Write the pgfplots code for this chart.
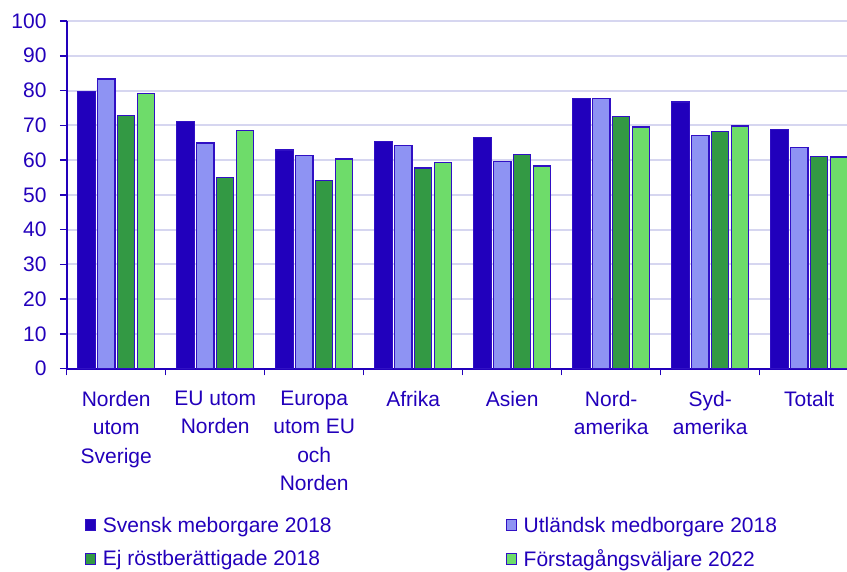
\documentclass[border=0pt]{standalone}
\usepackage{fontspec}
\setmainfont{Liberation Sans}
\usepackage{pgfplots}
\pgfplotsset{compat=1.18}
\definecolor{mainblue}{HTML}{2200BB}
\definecolor{edge}{HTML}{3010C4}
\definecolor{c1}{HTML}{2100BC}
\definecolor{c2}{HTML}{8E93F3}
\definecolor{c3}{HTML}{339944}
\definecolor{c4}{HTML}{6EDC6A}
\definecolor{gridc}{HTML}{D6D6F0}
\pgfplotsset{legsq/.style={legend image code/.code={\draw[##1, line width=1pt] (0pt,-5.5pt) rectangle (10pt,5.5pt);}}}
\begin{document}
\begin{tikzpicture}
\begin{axis}[
 at={(0pt,0pt)}, anchor=south west,
 scale only axis, width=792pt, height=347.7pt,
 xmin=-0.5, xmax=7.5, ymin=0, ymax=100,
 ybar, bar width=0.175,
 axis x line*=bottom, axis y line*=left,
 axis line style={mainblue, line width=2pt, -},
 ytick={0,10,...,100},
 ymajorgrids, grid style={gridc, line width=2pt},
 tick style={mainblue, line width=1.5pt},
 major tick length=6.7pt,
 tick align=outside,
 xtick={-0.5,0.5,1.5,2.5,3.5,4.5,5.5,6.5,7.5},
 x tick label as interval,
 xticklabels={{Norden\\utom\\Sverige},{EU utom\\Norden},{Europa\\utom EU\\och\\Norden},{Afrika},{Asien},{Nord-\\amerika},{Syd-\\amerika},{Totalt}},
 xticklabel style={align=center, font=\fontsize{21}{28.5}\selectfont, text=mainblue, anchor=north, yshift=-12pt},
 yticklabel style={font=\fontsize{21}{25}\selectfont, text=mainblue, xshift=-10pt},
 /pgf/number format/assume math mode=true,
 legend columns=2,
 legend cell align=left,
 legend style={draw=none, fill=none, at={(0,0)}, anchor=north west, xshift=18pt, yshift=-146pt,
   font=\fontsize{21}{25}\selectfont, text=mainblue, inner sep=0pt, row sep=12pt,
   /tikz/every odd column/.append style={column sep=5pt},
   /tikz/every even column/.append style={column sep=172pt}},
]
\addplot[fill=c1, draw=edge, line width=1.2pt, bar shift=-0.3, legsq] coordinates {(0,79.7)(1,71.1)(2,62.9)(3,65.3)(4,66.4)(5,77.8)(6,76.7)(7,68.9)};
\addplot[fill=c2, draw=edge, line width=1.2pt, bar shift=-0.1, legsq] coordinates {(0,83.3)(1,64.9)(2,61.4)(3,64.1)(4,59.6)(5,77.6)(6,67.0)(7,63.6)};
\addplot[fill=c3, draw=edge, line width=1.2pt, bar shift=0.1, legsq] coordinates {(0,72.8)(1,55.0)(2,54.1)(3,57.7)(4,61.7)(5,72.5)(6,68.2)(7,61.1)};
\addplot[fill=c4, draw=edge, line width=1.2pt, bar shift=0.3, legsq] coordinates {(0,79.1)(1,68.4)(2,60.3)(3,59.2)(4,58.3)(5,69.5)(6,69.8)(7,60.9)};
\legend{Svensk meborgare 2018, Utländsk medborgare 2018, Ej röstberättigade 2018, Förstagångsväljare 2022}
\end{axis}
\pgfresetboundingbox
\path[use as bounding box] (-66.7pt,-203.3pt) rectangle (780.3pt,368.7pt);
\end{tikzpicture}
\end{document}
